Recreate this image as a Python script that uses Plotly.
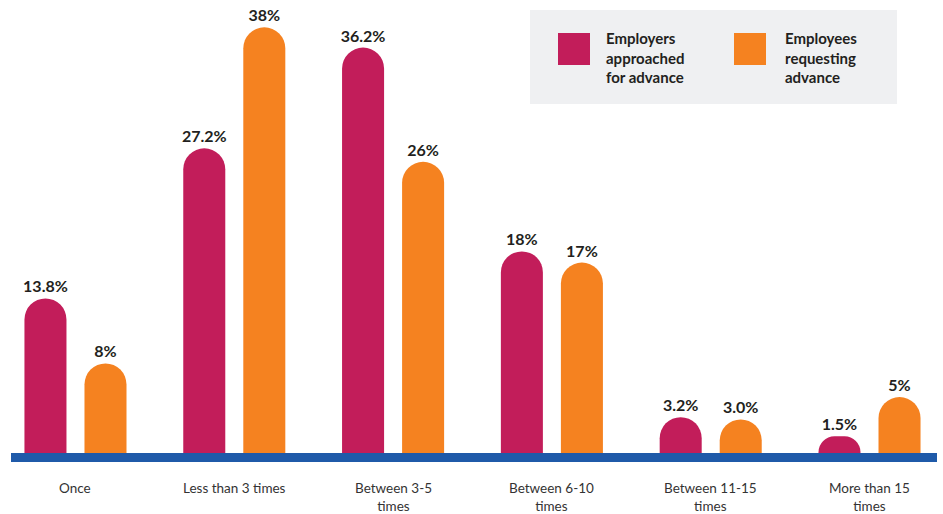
import plotly.graph_objects as go

# Data
categories = ["Once", "Less than 3 times", "Between 3-5<br>times", "Between 6-10<br>times",
              "Between 11-15<br>times", "More than 15<br>times"]
employers = [13.8, 27.2, 36.2, 18, 3.2, 1.5]
employer_labels = ["13.8%", "27.2%", "36.2%", "18%", "3.2%", "1.5%"]
employees = [8, 38, 26, 17, 3.0, 5]
employee_labels = ["8%", "38%", "26%", "17%", "3.0%", "5%"]
series_names = ["Employers<br>approached<br>for advance", "Employees<br>requesting<br>advance"]

MAGENTA = "#c21d5a"
ORANGE = "#f58220"
BLUE = "#1f5aa9"
TEXT = "#231f20"
FONT = "Lato"

# Plot area geometry (pixels) used for paper-coordinate placement
L, R, T, B = 11, 6, 10, 52
PW, PH = 943 - L - R, 514 - T - B


def px_x(px):
    return (px - L) / PW


def px_y(py):
    return 1 - (py - T) / PH


x = list(range(len(categories)))

fig = go.Figure()
for vals, labels, color, name in [
    (employers, employer_labels, MAGENTA, series_names[0]),
    (employees, employee_labels, ORANGE, series_names[1]),
]:
    fig.add_trace(go.Bar(
        x=x, y=vals, name=name, marker=dict(color=color, line=dict(width=0)),
        text=labels, textposition="outside", constraintext="none", cliponaxis=False,
        textfont=dict(family=FONT, size=16, color=TEXT, weight="bold"),
        hoverinfo="skip",
    ))

# Baseline bar along the x axis
fig.add_shape(type="rect", xref="paper", yref="y", x0=0, x1=1, y0=-0.8, y1=0,
              fillcolor=BLUE, line=dict(width=0), layer="above")

# Category labels under each group
for i, cat in enumerate(categories):
    fig.add_annotation(xref="x", yref="paper", x=i, y=px_y(479.5),
                       xanchor="center", yanchor="top", showarrow=False, align="center",
                       borderpad=0, text=cat, font=dict(family=FONT, size=13.5, color="#333333"))

# Custom legend panel
fig.add_shape(type="rect", xref="paper", yref="paper", layer="below",
              x0=px_x(530), x1=px_x(897), y0=px_y(104), y1=px_y(10),
              fillcolor="#eff0f2", line=dict(width=0))
for sx, tx, color, name in [(558, 604, MAGENTA, series_names[0]), (734, 783, ORANGE, series_names[1])]:
    fig.add_shape(type="rect", xref="paper", yref="paper",
                  x0=px_x(sx), x1=px_x(sx + 32), y0=px_y(65), y1=px_y(33),
                  fillcolor=color, line=dict(width=0))
    fig.add_annotation(xref="paper", yref="paper", x=px_x(tx), y=px_y(58),
                       xanchor="left", yanchor="middle", align="left", showarrow=False,
                       text=name, font=dict(family=FONT, size=15, color=TEXT, weight="bold"))

fig.update_layout(
    width=943, height=514,
    margin=dict(l=L, r=R, t=T, b=B),
    paper_bgcolor="white", plot_bgcolor="white",
    barmode="group", bargap=0.244, bargroupgap=0.30, barcornerradius="50%",
    showlegend=False,
    xaxis=dict(tickmode="array", tickvals=x, ticktext=[""] * len(x), range=[-0.406, 5.425],
               showgrid=False, zeroline=False, showline=False, ticks=""),
    yaxis=dict(range=[-0.8, 39.55], visible=False),
)

fig.write_html("out.html")
